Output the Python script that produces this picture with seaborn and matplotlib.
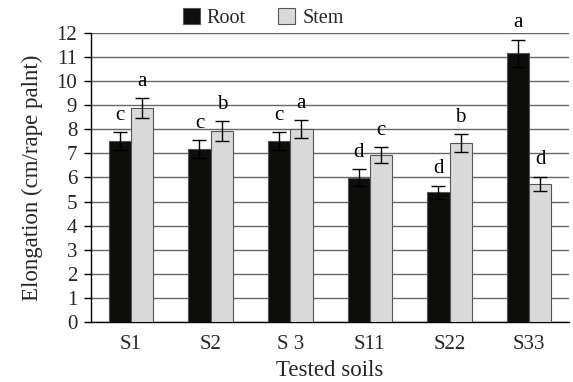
import matplotlib
matplotlib.use("Agg")
import matplotlib.pyplot as plt
import seaborn as sns
import pandas as pd
import numpy as np

soils = ["S1", "S2", "S 3", "S11", "S22", "S33"]
root = [7.5, 7.18, 7.5, 5.98, 5.39, 11.16]
stem = [8.88, 7.93, 8.0, 6.93, 7.42, 5.74]
root_err = [0.37, 0.37, 0.37, 0.35, 0.27, 0.56]
stem_err = [0.4, 0.4, 0.37, 0.33, 0.38, 0.29]
root_letters = ["c", "c", "c", "d", "d", "a"]
stem_letters = ["a", "b", "a", "c", "b", "d"]

sns.set_theme(style="white")
plt.rcParams["font.family"] = ["Liberation Serif", "DejaVu Serif"]

df = pd.DataFrame({
    "soil": soils * 2,
    "value": root + stem,
    "part": ["Root"] * len(soils) + ["Stem"] * len(soils),
})

fig = plt.figure(figsize=(5.73, 3.82), dpi=100)
ax = fig.add_axes([0.159, 0.157, 0.834, 0.757])

sns.barplot(data=df, x="soil", y="value", hue="part",
            palette={"Root": "#0d0f0a", "Stem": "#d9d9d9"},
            width=0.56, errorbar=None, ax=ax, zorder=3,
            edgecolor="#555555", linewidth=0.8)

errs = [root_err, stem_err]
letters = [root_letters, stem_letters]
vals = [root, stem]
for ci, cont in enumerate(ax.containers[:2]):
    xs = [p.get_x() + p.get_width() / 2 for p in cont.patches]
    ax.errorbar(xs, vals[ci], yerr=errs[ci], fmt="none", ecolor="black",
                elinewidth=1.0, capsize=5, capthick=1.0, zorder=4)
    for x, v, e, t in zip(xs, vals[ci], errs[ci], letters[ci]):
        ax.text(x, v + e + 0.3, t, ha="center", va="bottom", fontsize=15,
                color="black", zorder=5)

ax.set_ylim(0, 12)
ax.set_xlim(-0.5, 5.5)
ax.set_yticks(range(0, 13))
ax.yaxis.grid(True, color="#666666", linewidth=1.0, zorder=0)
ax.set_axisbelow(True)
for s in ["top", "right"]:
    ax.spines[s].set_visible(False)
ax.spines["left"].set_color("black")
ax.spines["bottom"].set_color("black")
ax.spines["left"].set_linewidth(1.0)
ax.spines["bottom"].set_linewidth(1.0)
ax.tick_params(axis="y", which="both", left=True, length=5, width=1.0,
               color="black", labelsize=15, pad=5)
ax.tick_params(axis="x", bottom=False, labelsize=15, pad=3)
ax.set_xlabel("Tested soils", fontsize=16.5, labelpad=5)
ax.set_ylabel("Elongation (cm/rape palnt)", fontsize=16.5, labelpad=10)

leg = ax.legend(loc="lower center", bbox_to_anchor=(0.36, 0.99), ncol=2,
                frameon=False, fontsize=14.5, handlelength=0.85, handleheight=0.85,
                handletextpad=0.35, columnspacing=1.6, borderaxespad=0)

fig.savefig("out.png", dpi=100)
